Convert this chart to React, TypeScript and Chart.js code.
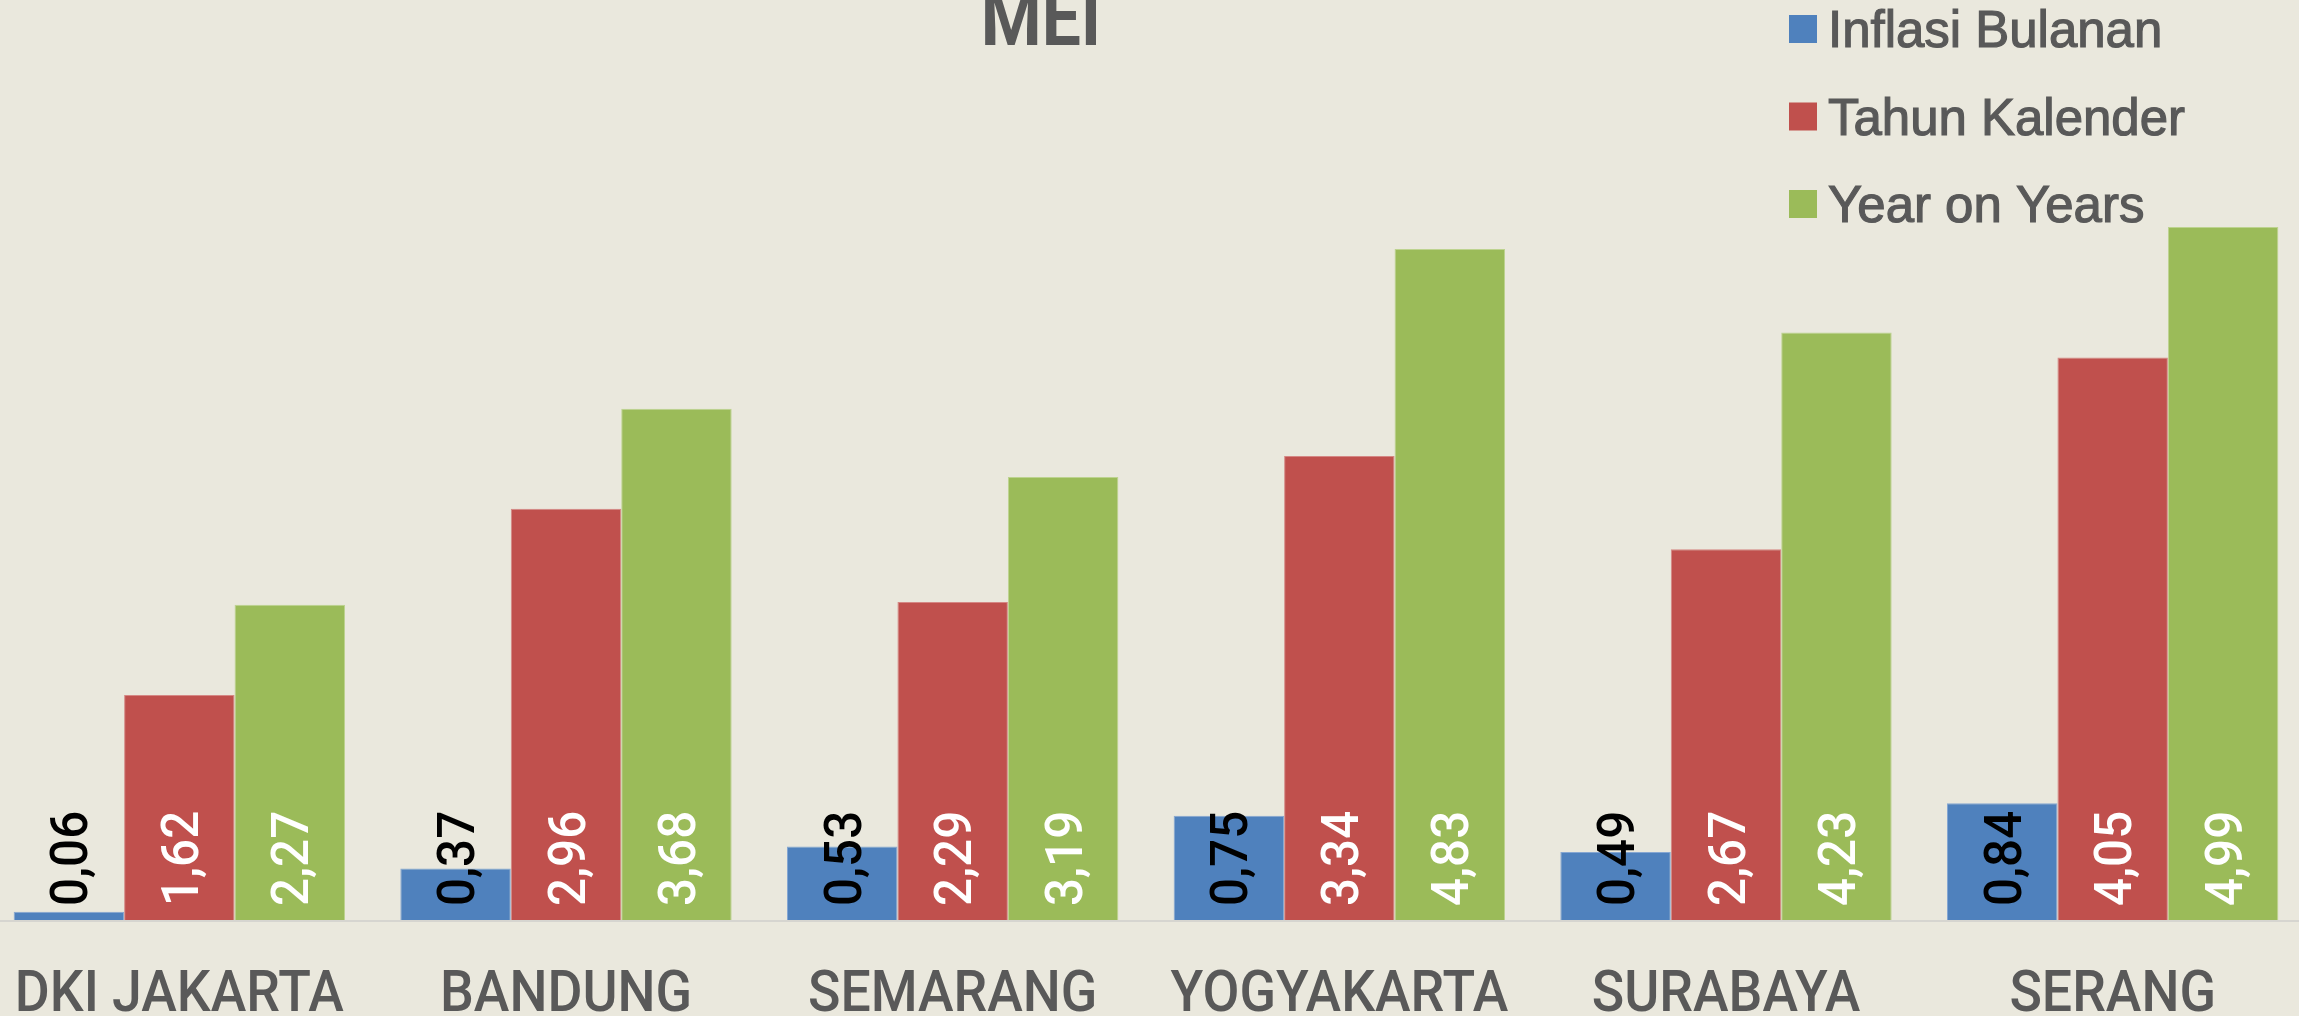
import React, { useEffect, useRef } from "react";
import { Chart, registerables } from "chart.js";

Chart.register(...registerables);

// ---------- data ----------
const categories = ["DKI JAKARTA", "BANDUNG", "SEMARANG", "YOGYAKARTA", "SURABAYA", "SERANG"];
const seriesNames = ["Inflasi Bulanan", "Tahun Kalender", "Year on Years"];
const inflasiBulanan = [0.06, 0.37, 0.53, 0.75, 0.49, 0.84];
const tahunKalender = [1.62, 2.96, 2.29, 3.34, 2.67, 4.05];
const yearOnYears = [2.27, 3.68, 3.19, 4.83, 4.23, 4.99];
const chartTitle = "MEI";
const yMin = 0;
const yMax = 6;

// ---------- styles ----------
const colors = ["#4F81BD", "#C0504D", "#9BBB59"];
const edgeColors = ["#86A7D2", "#D58784", "#BDD38F"];
const labelColors = ["#000000", "#FFFFFF", "#FFFFFF"];
const BG = "#EAE8DD";
const TEXT = "#595959";
const SHIFT_X = 14; // canvas is shifted left by this amount

const fmt = (v: number) => v.toFixed(2).replace(".", ",");

const overlayPlugin = {
  id: "overlay",
  afterDatasetsDraw(chart: any) {
    const ctx: CanvasRenderingContext2D = chart.ctx;
    const y0 = chart.scales.y.getPixelForValue(0);
    ctx.save();
    // baseline
    ctx.strokeStyle = "#D6D5D0";
    ctx.lineWidth = 2;
    ctx.beginPath();
    ctx.moveTo(0, y0 + 1);
    ctx.lineTo(chart.width, y0 + 1);
    ctx.stroke();

    // data labels (rotated, at bar base)
    chart.data.datasets.forEach((ds: any, di: number) => {
      const meta = chart.getDatasetMeta(di);
      meta.data.forEach((el: any, i: number) => {
        const v = ds.data[i] as number;
        ctx.save();
        ctx.translate(el.x + 18.5, el.base - 14);
        ctx.rotate(-Math.PI / 2);
        ctx.scale(0.95, 1);
        ctx.font = "500 52px Roboto";
        ctx.fillStyle = labelColors[di];
        ctx.textAlign = "left";
        ctx.textBaseline = "alphabetic";
        ctx.fillText(fmt(v), 0, 0);
        ctx.restore();
      });
    });

    // category labels
    categories.forEach((c, i) => {
      const x = chart.scales.x.getPixelForValue(i);
      ctx.save();
      ctx.translate(x, y0 + 91);
      ctx.scale(0.94, 1);
      ctx.font = "500 57px Roboto";
      ctx.fillStyle = TEXT;
      ctx.textAlign = "center";
      ctx.textBaseline = "alphabetic";
      ctx.fillText(c, 0, 0);
      ctx.restore();
    });

    // title
    ctx.save();
    ctx.translate(1041 + SHIFT_X, 45);
    ctx.scale(0.87, 1);
    ctx.font = "bold 80px Roboto";
    ctx.fillStyle = TEXT;
    ctx.textAlign = "center";
    ctx.textBaseline = "alphabetic";
    ctx.fillText(chartTitle, 0, 0);
    ctx.restore();

    // legend
    seriesNames.forEach((name, k) => {
      const top = 15 + k * 87.5;
      ctx.fillStyle = colors[k];
      ctx.fillRect(1789 + SHIFT_X, top, 28, 28);
      ctx.save();
      ctx.translate(1828 + SHIFT_X, 47 + k * 87.5);
      ctx.scale(0.98, 1);
      ctx.font = '52px "Liberation Sans", Arial, sans-serif';
      ctx.fillStyle = TEXT;
      ctx.strokeStyle = TEXT;
      ctx.lineWidth = 1.2;
      ctx.textAlign = "left";
      ctx.textBaseline = "alphabetic";
      ctx.fillText(name, 0, 0);
      ctx.strokeText(name, 0, 0);
      ctx.restore();
    });
    ctx.restore();
  },
};

export default function App() {
  const ref = useRef<HTMLCanvasElement | null>(null);
  useEffect(() => {
    if (!ref.current) return;
    const seriesData = [inflasiBulanan, tahunKalender, yearOnYears];
    const chart = new Chart(ref.current, {
      type: "bar",
      data: {
        labels: categories,
        datasets: seriesNames.map((name, k) => ({
          label: name,
          data: seriesData[k],
          backgroundColor: colors[k],
          borderColor: edgeColors[k],
          borderWidth: 1,
          categoryPercentage: 0.857,
          barPercentage: 1.0,
        })),
      },
      options: {
        responsive: false,
        animation: false,
        layout: { padding: { top: 86.6, bottom: 96, left: 0, right: 0 } },
        plugins: {
          legend: { display: false },
          title: { display: false },
          tooltip: { enabled: false },
        },
        scales: {
          x: { display: false },
          y: { display: false, min: yMin, max: yMax },
        },
      },
      plugins: [overlayPlugin],
    });
    return () => chart.destroy();
  }, []);

  return (
    <div
      style={{
        position: "absolute",
        left: 0,
        top: 0,
        width: 2299,
        height: 1016,
        overflow: "hidden",
        background: BG,
      }}
    >
      <canvas
        ref={ref}
        width={2320}
        height={1016}
        style={{ position: "absolute", left: -SHIFT_X, top: 0, width: 2320, height: 1016, display: "block" }}
      />
    </div>
  );
}
